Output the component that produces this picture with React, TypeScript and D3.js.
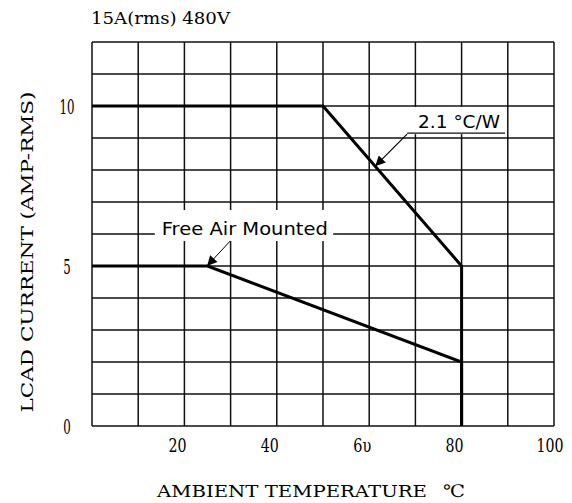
import { useEffect, useRef } from 'react';
import * as d3 from 'd3';

// derating curves
const heatsinkTemp = [0, 50, 80, 80];
const heatsinkAmps = [10, 10, 5, 0];
const freeAirTemp = [0, 25, 80, 80];
const freeAirAmps = [5, 5, 2, 0];

const xTickValues = [20, 40, 60, 80, 100];
const xTickLabels = ['20', '40', '6υ', '80', '100'];
const yTickValues = [0, 5, 10];
const yTickLabels = ['0', '5', '10'];

const title = '15A(rms) 480V';
const xTitle = 'AMBIENT TEMPERATURE';
const xUnit = '℃';
const yTitle = 'LCAD CURRENT (AMP-RMS)';

// annotation labels: text, box [x0, x1, y0, y1] and arrow [from, to] in data units
const heatsinkNote = { text: '2.1 °C/W', box: [68.2, 89.4, 9.12, 9.97], from: [68.2, 9.12], to: [61.3, 8.12] };
const freeAirNote = { text: 'Free Air Mounted', box: [13.6, 52.2, 5.78, 6.75], from: [29.9, 5.78], to: [24.9, 5.0] };

export default function App() {
  const ref = useRef<SVGSVGElement>(null);

  useEffect(() => {
    const svg = d3.select(ref.current);
    svg.selectAll('*').remove();

    const width = 572;
    const height = 503;
    svg.attr('width', width).attr('height', height);

    const x = d3.scaleLinear().domain([0, 100]).range([92, 554]);
    const y = d3.scaleLinear().domain([0, 12]).range([426, 42]);

    const serif = '"DejaVu Serif", serif';
    const sans = '"DejaVu Sans", sans-serif';

    svg.append('rect').attr('width', width).attr('height', height).attr('fill', '#fff');

    // arrowhead
    const defs = svg.append('defs');
    defs.append('marker')
      .attr('id', 'head')
      .attr('viewBox', '0 0 10 10')
      .attr('refX', 10)
      .attr('refY', 5)
      .attr('markerWidth', 12)
      .attr('markerHeight', 10)
      .attr('markerUnits', 'userSpaceOnUse')
      .attr('orient', 'auto')
      .append('path')
      .attr('d', 'M0,0L10,5L0,10Z')
      .attr('fill', '#000');

    const g = svg.append('g');

    // grid
    g.selectAll('line.vx')
      .data(x.ticks(10))
      .join('line')
      .attr('x1', (d) => x(d)).attr('x2', (d) => x(d))
      .attr('y1', y(0)).attr('y2', y(12))
      .attr('stroke', '#111').attr('stroke-width', 1.5);
    g.selectAll('line.hy')
      .data(y.ticks(12))
      .join('line')
      .attr('y1', (d) => y(d)).attr('y2', (d) => y(d))
      .attr('x1', x(0)).attr('x2', x(100))
      .attr('stroke', '#111').attr('stroke-width', 1.5);

    // annotation boxes blank out the grid
    for (const note of [heatsinkNote, freeAirNote]) {
      const [x0, x1, y0, y1] = note.box;
      g.append('rect')
        .attr('x', x(x0)).attr('width', x(x1) - x(x0))
        .attr('y', y(y1)).attr('height', y(y0) - y(y1))
        .attr('fill', '#fff');
    }

    // curves
    const drawCurve = (t: number[], a: number[]) => {
      const pts = t.map((v, i) => [x(v), y(a[i])] as [number, number]);
      g.append('path')
        .attr('d', d3.line()(pts))
        .attr('fill', 'none')
        .attr('stroke', '#000')
        .attr('stroke-width', 3)
        .attr('stroke-linejoin', 'miter');
    };
    drawCurve(heatsinkTemp, heatsinkAmps);
    drawCurve(freeAirTemp, freeAirAmps);

    // heatsink note
    {
      const [x0, x1, y0] = heatsinkNote.box;
      g.append('line')
        .attr('x1', x(x0)).attr('x2', x(x1))
        .attr('y1', y(y0) - 1).attr('y2', y(y0) - 1)
        .attr('stroke', '#111').attr('stroke-width', 1.3);
      g.append('text')
        .attr('x', x(x0) + 11)
        .attr('y', y(y0) - 6)
        .attr('textLength', 82)
        .attr('lengthAdjust', 'spacingAndGlyphs')
        .style('font-family', sans).style('font-size', '17px')
        .text(heatsinkNote.text);
      g.append('line')
        .attr('x1', x(heatsinkNote.from[0])).attr('y1', y(heatsinkNote.from[1]))
        .attr('x2', x(heatsinkNote.to[0])).attr('y2', y(heatsinkNote.to[1]))
        .attr('stroke', '#000').attr('stroke-width', 1.2)
        .attr('marker-end', 'url(#head)');
    }

    // free air note
    {
      const [x0] = freeAirNote.box;
      g.append('text')
        .attr('x', x(x0) + 7)
        .attr('y', 235)
        .attr('textLength', 166)
        .attr('lengthAdjust', 'spacingAndGlyphs')
        .style('font-family', sans).style('font-size', '17px')
        .text(freeAirNote.text);
      g.append('line')
        .attr('x1', x(freeAirNote.from[0])).attr('y1', y(freeAirNote.from[1]))
        .attr('x2', x(freeAirNote.to[0])).attr('y2', y(freeAirNote.to[1]))
        .attr('stroke', '#000').attr('stroke-width', 1)
        .attr('marker-end', 'url(#head)');
    }

    // tick labels
    g.selectAll('text.xt')
      .data(xTickValues)
      .join('text')
      .attr('x', (d) => x(d) - (d === 100 ? 4 : 7))
      .attr('y', 452)
      .attr('text-anchor', 'middle')
      .attr('textLength', (d, i) => (xTickLabels[i].length * 9))
      .attr('lengthAdjust', 'spacingAndGlyphs')
      .style('font-family', serif).style('font-size', '18px')
      .text((d, i) => xTickLabels[i]);

    g.selectAll('text.yt')
      .data(yTickValues)
      .join('text')
      .attr('x', 67)
      .attr('y', (d) => y(d) + 8)
      .attr('text-anchor', 'middle')
      .attr('textLength', (d, i) => (yTickLabels[i].length * 7.5))
      .attr('lengthAdjust', 'spacingAndGlyphs')
      .style('font-family', serif).style('font-size', '20px')
      .text((d, i) => yTickLabels[i]);

    // titles
    svg.append('text')
      .attr('x', 91).attr('y', 24)
      .attr('textLength', 139)
      .attr('lengthAdjust', 'spacingAndGlyphs')
      .style('font-family', serif).style('font-size', '16px')
      .text(title);

    svg.append('text')
      .attr('x', 157).attr('y', 497)
      .attr('textLength', 270)
      .attr('lengthAdjust', 'spacingAndGlyphs')
      .style('font-family', serif).style('font-size', '17px')
      .text(xTitle);
    svg.append('text')
      .attr('x', 443).attr('y', 497)
      .attr('textLength', 22)
      .attr('lengthAdjust', 'spacingAndGlyphs')
      .style('font-family', serif).style('font-size', '17px')
      .text(xUnit);

    svg.append('text')
      .attr('transform', 'translate(33,252) rotate(-90)')
      .attr('text-anchor', 'middle')
      .attr('textLength', 321)
      .attr('lengthAdjust', 'spacingAndGlyphs')
      .style('font-family', serif).style('font-size', '17px')
      .text(yTitle);
  }, []);

  return <svg ref={ref} style={{ position: 'absolute', left: 0, top: 0 }}></svg>;
}
